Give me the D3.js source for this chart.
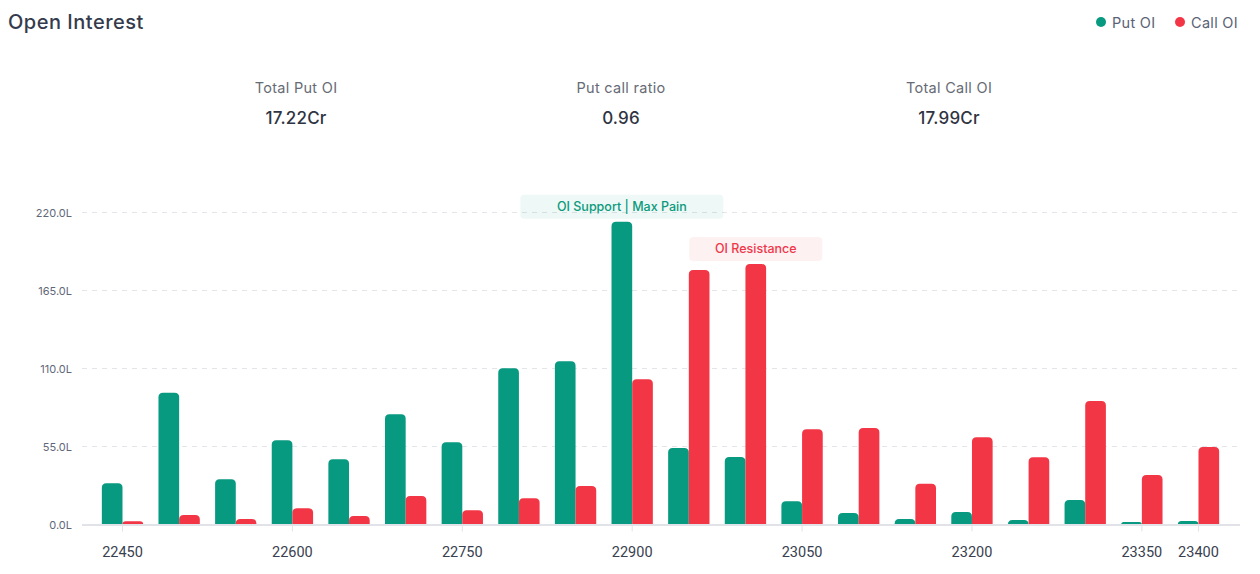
<!DOCTYPE html>
<html>
<head>
<meta charset="utf-8">
<script src="https://cdn.jsdelivr.net/npm/d3@7"></script>
<style>
  html, body { margin: 0; padding: 0; background: #ffffff; }
  svg { display: block; }
</style>
</head>
<body>
<svg id="chart" width="1260" height="574"></svg>
<script>
// ---- Data ----
const strikes = [22450, 22500, 22550, 22600, 22650, 22700, 22750, 22800, 22850, 22900,
                 22950, 23000, 23050, 23100, 23150, 23200, 23250, 23300, 23350, 23400];
const putOI  = [29.1, 92.9, 31.9, 59.4, 46.0, 77.7, 58.0, 110.2, 115.1, 213.5,
                53.9, 47.6, 16.4, 8.1, 3.9, 8.8, 3.2, 17.3, 1.8, 2.5];
const callOI = [2.3, 6.7, 3.9, 11.4, 6.0, 20.1, 10.0, 18.5, 27.2, 102.4,
                179.5, 183.7, 67.1, 68.1, 28.8, 61.5, 47.4, 87.1, 34.9, 54.7];
const yTicks = [0, 55, 110, 165, 220];
const xTickLabels = [22450, 22600, 22750, 22900, 23050, 23200, 23350, 23400];
const seriesNames = ["Put OI", "Call OI"];
const summaryLabels = ["Total Put OI", "Put call ratio", "Total Call OI"];
const summaryValues = ["17.22Cr", "0.96", "17.99Cr"];
const supportLabel = "OI Support | Max Pain";
const resistanceLabel = "OI Resistance";

const GREEN = "#089981", RED = "#F23645";
const FONT = "Inter, 'Open Sans', sans-serif";

const svg = d3.select("#chart");

// ---- Header ----
svg.append("text").attr("x", 8).attr("y", 29)
  .attr("font-family", FONT).attr("font-size", 20).attr("font-weight", 500)
  .attr("letter-spacing", 0.5)
  .attr("fill", "#343b4c").text("Open Interest");

const legend = svg.append("g").attr("font-family", FONT).attr("font-size", 14.5);
const legendItems = [{name: seriesNames[0], color: GREEN, cx: 1101}, {name: seriesNames[1], color: RED, cx: 1180}];
legendItems.forEach(d => {
  legend.append("circle").attr("cx", d.cx).attr("cy", 22).attr("r", 5).attr("fill", d.color);
  legend.append("text").attr("x", d.cx + 11).attr("y", 27.5).attr("letter-spacing", 0.3)
    .attr("fill", "#5a6275").text(d.name);
});

// ---- Summary ----
const summaryX = [296, 621, 949];
summaryLabels.forEach((lab, i) => {
  svg.append("text").attr("x", summaryX[i]).attr("y", 93).attr("text-anchor", "middle")
    .attr("font-family", FONT).attr("font-size", 14.5).attr("letter-spacing", 0.3)
    .attr("fill", "#666b75").text(lab);
  svg.append("text").attr("x", summaryX[i]).attr("y", 124).attr("text-anchor", "middle")
    .attr("font-family", FONT).attr("font-size", 17).attr("font-weight", 500)
    .attr("letter-spacing", 0.2)
    .attr("fill", "#2f3442").text(summaryValues[i]);
});

// ---- Scales ----
const y = d3.scaleLinear().domain([0, 220]).range([524.5, 212.5]);
const x0 = d3.scaleBand().domain(strikes).range([94.2, 1226.8]).paddingInner(0.27).paddingOuter(0.135);
const x1 = d3.scaleBand().domain(seriesNames).range([0, x0.bandwidth()]).padding(0);

// ---- Grid ----
const grid = svg.append("g");
grid.selectAll("line").data(yTicks.filter(t => t > 0)).join("line")
  .attr("x1", 82).attr("x2", 1240)
  .attr("y1", d => y(d)).attr("y2", d => y(d))
  .attr("stroke", "#e3e5e8").attr("stroke-width", 1).attr("stroke-dasharray", "5,5");

// y labels
svg.append("g").selectAll("text").data(yTicks).join("text")
  .attr("x", 72).attr("y", d => y(d) + 4).attr("text-anchor", "end")
  .attr("font-family", FONT).attr("font-size", 11).attr("fill", "#5f6878")
  .text(d => d.toFixed(1) + "L");

// ---- Bars ----
function topRounded(xp, yTop, w, yBase, r) {
  const h = yBase - yTop;
  const rr = Math.min(r, h, w / 2);
  return `M${xp},${yBase}V${yTop + rr}Q${xp},${yTop} ${xp + rr},${yTop}H${xp + w - rr}Q${xp + w},${yTop} ${xp + w},${yTop + rr}V${yBase}Z`;
}

const rows = strikes.map((s, i) => ({strike: s, vals: [{k: seriesNames[0], v: putOI[i], c: GREEN}, {k: seriesNames[1], v: callOI[i], c: RED}]}));
const groups = svg.append("g").selectAll("g").data(rows).join("g")
  .attr("transform", d => `translate(${x0(d.strike)},0)`);
groups.selectAll("path").data(d => d.vals).join("path")
  .attr("d", d => topRounded(x1(d.k), y(d.v), x1.bandwidth(), y(0), 4.5))
  .attr("fill", d => d.c);

// ---- Axis ----
svg.append("line").attr("x1", 82).attr("x2", 1240).attr("y1", y(0) + 0.5).attr("y2", y(0) + 0.5)
  .attr("stroke", "#e2e3e8").attr("stroke-width", 2);

const xa = svg.append("g");
xTickLabels.forEach(s => {
  const cx = x0(s) + x0.bandwidth() / 2;
  xa.append("line").attr("x1", cx).attr("x2", cx).attr("y1", y(0) + 1.5).attr("y2", y(0) + 7)
    .attr("stroke", "#e2e3e8").attr("stroke-width", 1);
  xa.append("text").attr("x", cx).attr("y", 557).attr("text-anchor", "middle")
    .attr("font-family", "Roboto, 'Liberation Sans', sans-serif").attr("font-size", 14.5)
    .attr("fill", "#394150").text(s);
});

// ---- Annotations ----
function annotate(label, cx, barTop, bg, fg, w) {
  const h = 24;
  const g = svg.append("g");
  g.append("rect").attr("x", cx - w / 2).attr("y", barTop - 3 - h).attr("width", w).attr("height", h)
    .attr("rx", 4).attr("fill", bg);
  g.append("text").attr("x", cx).attr("y", barTop - 3 - h / 2 + 4.3).attr("text-anchor", "middle")
    .attr("font-family", FONT).attr("font-size", 12.5).attr("font-weight", 500)
    .attr("fill", fg).text(label);
}
const iPut = putOI.indexOf(d3.max(putOI));
const iCall = callOI.indexOf(d3.max(callOI));
annotate(supportLabel, x0(strikes[iPut]) + x1(seriesNames[0]) + x1.bandwidth() / 2, y(putOI[iPut]), "rgba(8,153,129,0.07)", "#0b9a7c", 203);
annotate(resistanceLabel, x0(strikes[iCall]) + x1(seriesNames[1]) + x1.bandwidth() / 2, y(callOI[iCall]), "rgba(242,54,69,0.07)", "#f0384a", 133);
</script>
</body>
</html>
